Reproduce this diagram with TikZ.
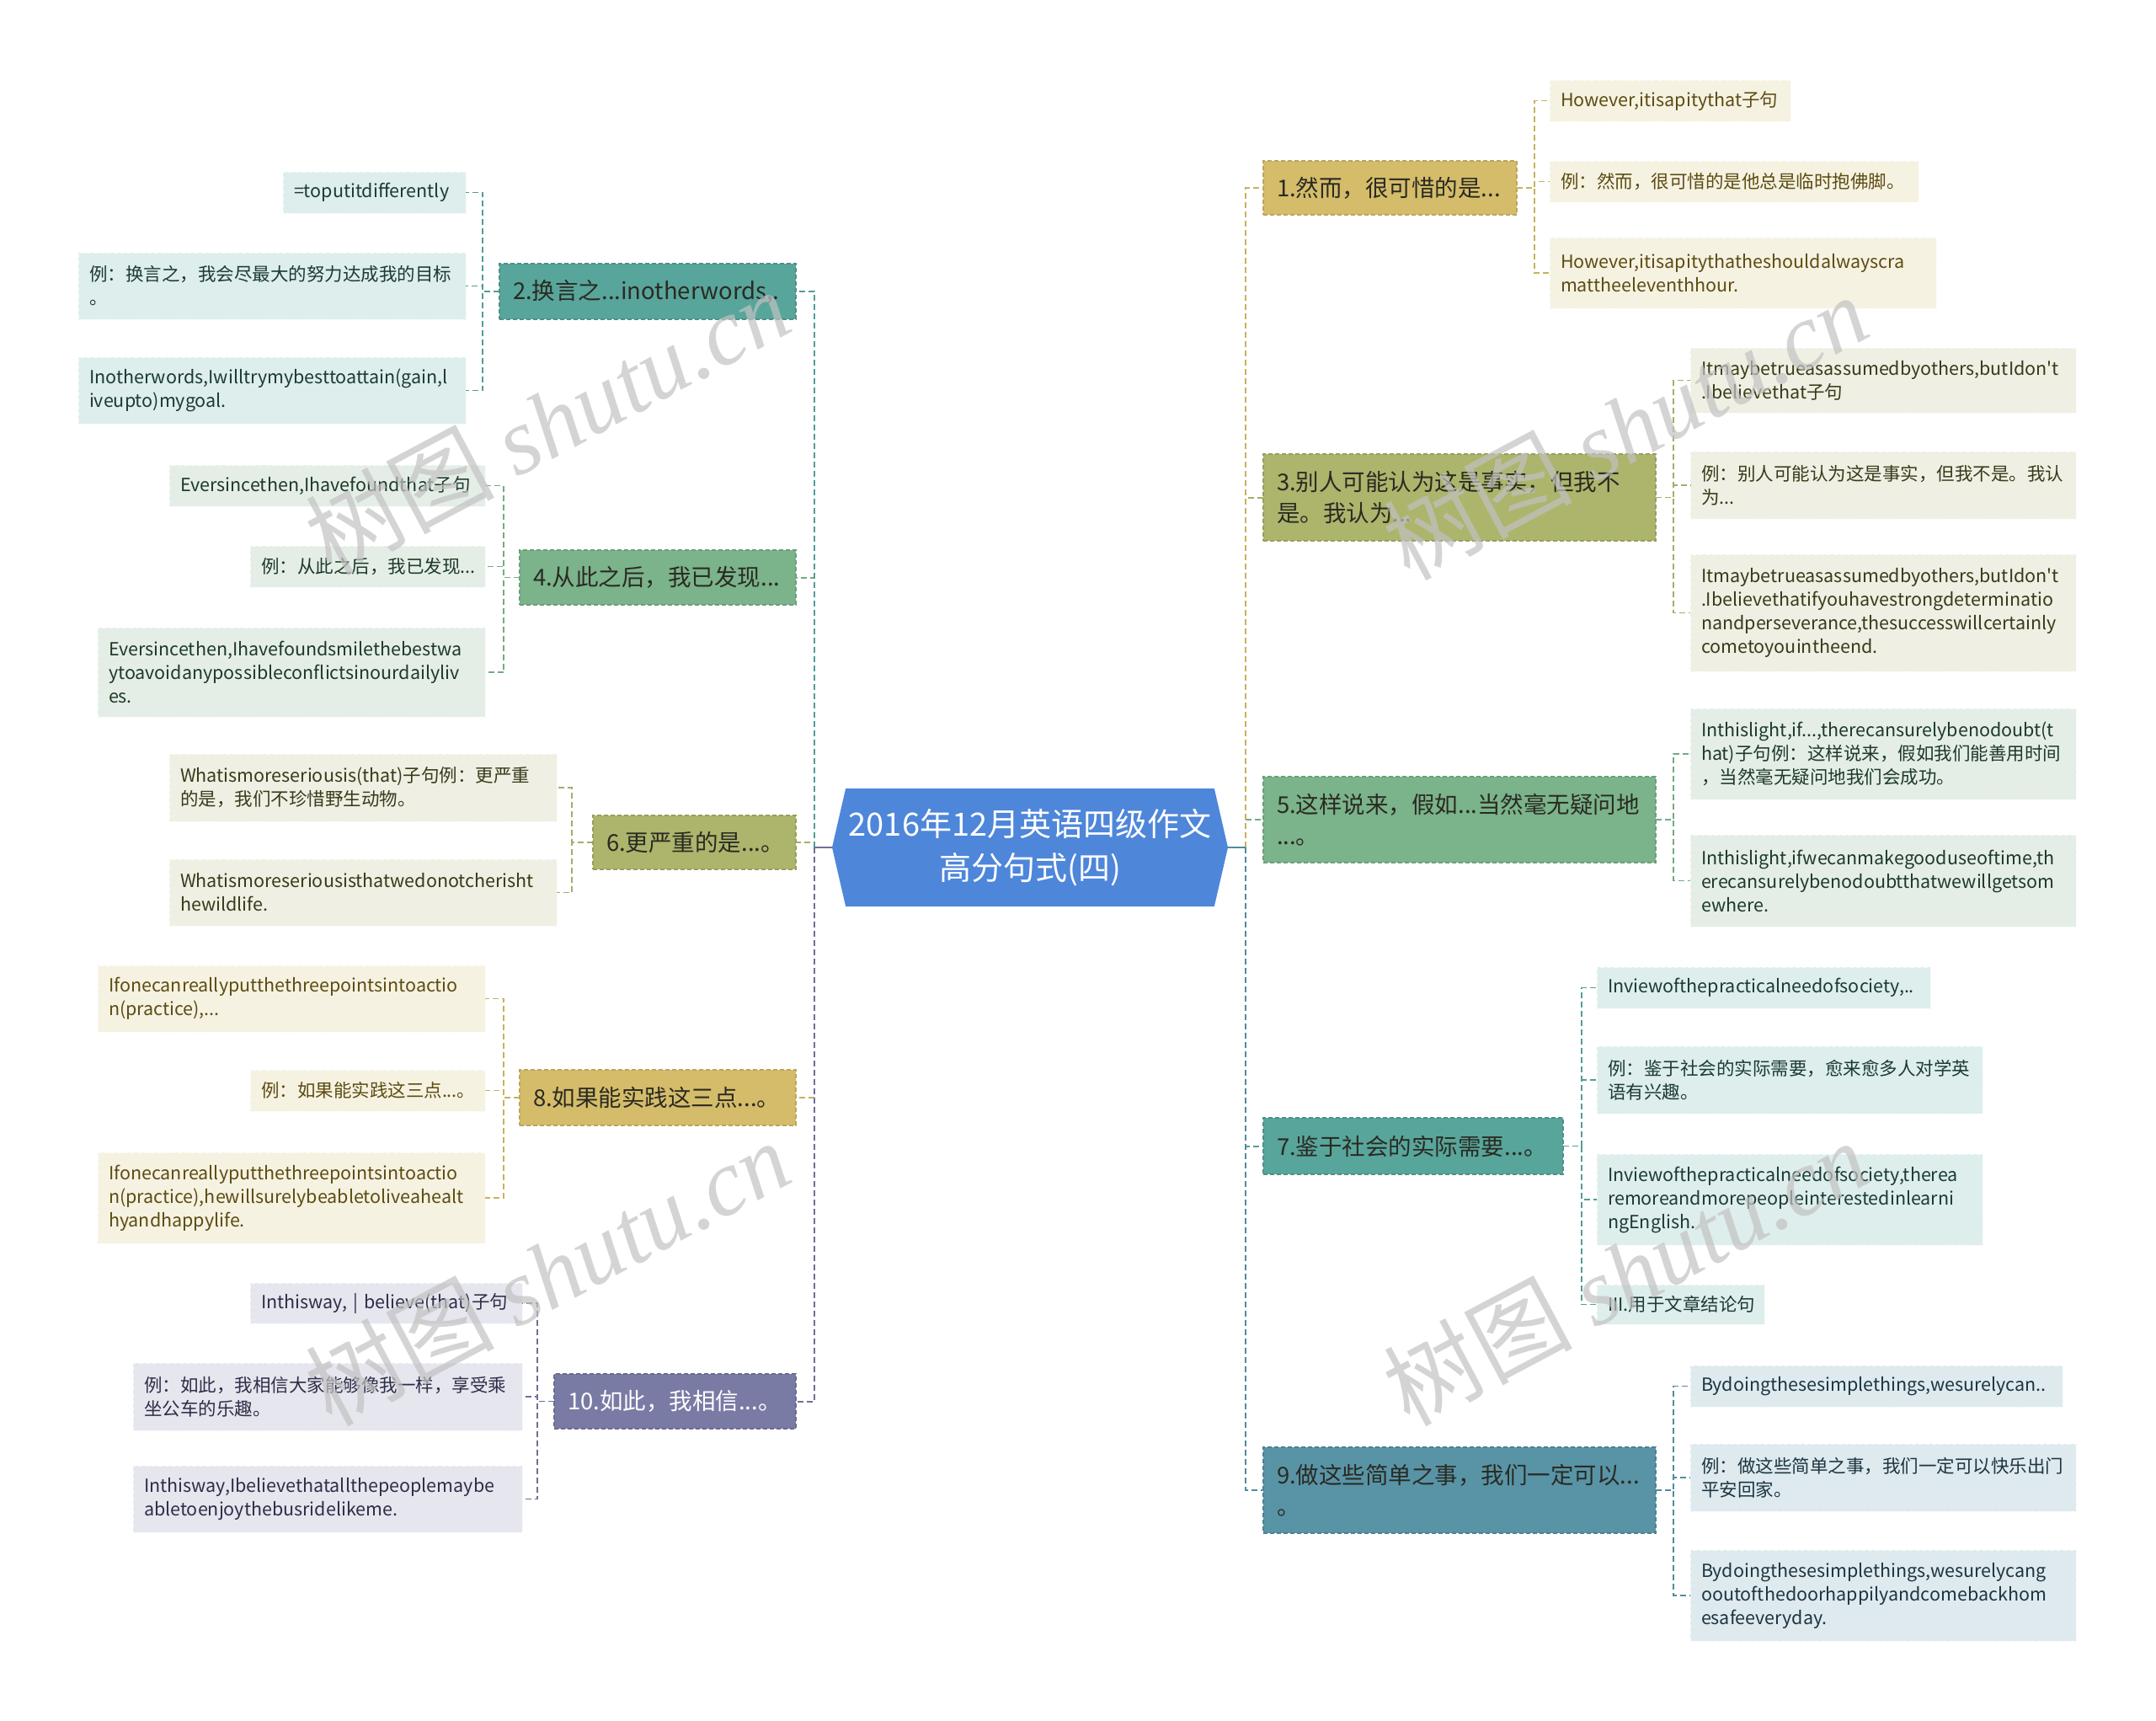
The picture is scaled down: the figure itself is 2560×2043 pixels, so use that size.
\documentclass[tikz,border=0pt]{standalone}
\usepackage{fontspec}
\setmainfont{Noto Sans CJK SC}[Ligatures=TeXOff]
\newfontfamily\wmlatin{Liberation Serif}
\usetikzlibrary{shapes.symbols}
\hyphenpenalty=10000
\exhyphenpenalty=10000
\definecolor{rootC}{HTML}{4E86DA}
\definecolor{goldB}{HTML}{D4BC6A}\definecolor{goldL}{HTML}{F6F2E2}\definecolor{goldT}{HTML}{5C4C12}\definecolor{goldK}{HTML}{C8B15E}
\definecolor{oliveB}{HTML}{ADB46C}\definecolor{oliveL}{HTML}{EFEFE3}\definecolor{oliveT}{HTML}{3A3A1A}\definecolor{oliveK}{HTML}{A6AD66}
\definecolor{greenB}{HTML}{7BB38B}\definecolor{greenL}{HTML}{E4EEE7}\definecolor{greenT}{HTML}{1E3A27}\definecolor{greenK}{HTML}{74AA84}
\definecolor{tealB}{HTML}{58A59B}\definecolor{tealL}{HTML}{DDEEEC}\definecolor{tealT}{HTML}{1C3A36}\definecolor{tealK}{HTML}{529E94}
\definecolor{steelB}{HTML}{5894A6}\definecolor{steelL}{HTML}{DEEAEE}\definecolor{steelT}{HTML}{1D3540}\definecolor{steelK}{HTML}{4F8C9F}
\definecolor{purpB}{HTML}{7A7BA4}\definecolor{purpL}{HTML}{E5E6EE}\definecolor{purpT}{HTML}{2E2E48}\definecolor{purpK}{HTML}{6E6F99}
\definecolor{brT}{HTML}{2A2A22}
\newcommand\leaffont{\fontsize{21.5}{28}\selectfont}
\newcommand\branchfont{\fontsize{27.5}{37.5}\selectfont}
\newcommand\rootfont{\fontsize{38}{52}\selectfont}
\newcommand\wmtext{{\fontsize{112}{112}\selectfont 树图 \wmlatin\itshape shutu.cn}}
\newcommand\mkleaf[7]{%
  \pgfmathsetmacro\mytw{#5-#3-26}\pgfmathsetmacro\myhh{#6-#4}%
  \node[#2, text width=\mytw pt, minimum height=\myhh pt] (#1) at (#3,#4) {#7};}
\newcommand\mkbranch[7]{%
  \pgfmathsetmacro\mytw{#5-#3-32}\pgfmathsetmacro\myhh{#6-#4}%
  \node[#2, text width=\mytw pt, minimum height=\myhh pt] (#1) at (#3,#4) {#7};}
\tikzset{
  leafbox/.style={rectangle, anchor=north west, inner xsep=13pt, inner ysep=0pt, outer sep=0pt,
    align=left, font=\leaffont, draw=white!70!#1, dash pattern=on 5pt off 3pt, line width=1pt},
  lfgold/.style={leafbox=goldL, fill=goldL, text=goldT},
  lfolive/.style={leafbox=oliveL, fill=oliveL, text=oliveT},
  lfgreen/.style={leafbox=greenL, fill=greenL, text=greenT},
  lfteal/.style={leafbox=tealL, fill=tealL, text=tealT},
  lfsteel/.style={leafbox=steelL, fill=steelL, text=steelT},
  lfpurple/.style={leafbox=purpL, fill=purpL, text=purpT},
  brbox/.style={rectangle, anchor=north west, inner xsep=16pt, inner ysep=0pt, outer sep=0pt,
    align=left, font=\branchfont, draw=black!12!#1, dash pattern=on 5pt off 3pt, line width=1.2pt, fill=#1},
  brgold/.style={brbox=goldB, text=brT},
  brolive/.style={brbox=oliveB, text=brT},
  brgreen/.style={brbox=greenB, text=brT},
  brteal/.style={brbox=tealB, text=brT},
  brsteel/.style={brbox=steelB, text=brT},
  brpurple/.style={brbox=purpB, text=white},
  conn/.style={draw=#1, line width=2pt, dash pattern=on 7pt off 4pt},
  stub/.style={draw=#1, line width=2.5pt},
  wmark/.style={text=black!24, opacity=0.7, rotate=28, inner sep=0pt},
}
\begin{document}
\begin{tikzpicture}[x=1pt,y=-1pt]
\useasboundingbox[fill=white] (0,0) rectangle (2560,2043);

% root
\node[shape=signal, signal to=west and east, signal pointer angle=154, fill=rootC,
  minimum width=470pt, minimum height=140pt, inner sep=0pt, text=white, font=\rootfont,
  align=center] (root) at (1223,1006) {2016年12月英语四级作文\\高分句式(四)};

% right branches
\mkbranch{b1}{brgold}{1500}{191}{1801}{255}{1.然而，很可惜的是...}
\mkbranch{b3}{brolive}{1500}{539}{1966}{642}{3.别人可能认为这是事实，但我不\\是。我认为...}
\mkbranch{b5}{brgreen}{1500}{922}{1966}{1024}{5.这样说来，假如...当然毫无疑问地\\...。}
\mkbranch{b7}{brteal}{1500}{1327}{1856}{1394}{7.鉴于社会的实际需要...。}
\mkbranch{b9}{brsteel}{1500}{1718}{1966}{1820}{9.做这些简单之事，我们一定可以...\\。}

% left branches
\mkbranch{b2}{brteal}{593}{313}{945}{379}{2.换言之...inotherwords,.}
\mkbranch{b4}{brgreen}{617}{653}{945}{718}{4.从此之后，我已发现...}
\mkbranch{b6}{brolive}{704}{968}{945}{1032}{6.更严重的是...。}
\mkbranch{b8}{brgold}{617}{1270}{945}{1336}{8.如果能实践这三点...。}
\mkbranch{b10}{brpurple}{658}{1631}{945}{1696}{10.如此，我相信...。}

% right leaves
\mkleaf{l1a}{lfgold}{1840}{95}{2126}{144}{However,itisapitythat子句}
\mkleaf{l1b}{lfgold}{1840}{191}{2278}{240}{例：然而，很可惜的是他总是临时抱佛脚。}
\mkleaf{l1c}{lfgold}{1840}{282}{2299}{366}{However,itisapitythatheshouldalwayscra\\mattheeleventhhour.}
\mkleaf{l3a}{lfolive}{2007}{413}{2465}{490}{Itmaybetrueasassumedbyothers,butIdon't\\.Ibelievethat子句}
\mkleaf{l3b}{lfolive}{2007}{536}{2465}{616}{例：别人可能认为这是事实，但我不是。我认\\为...}
\mkleaf{l3c}{lfolive}{2007}{658}{2465}{797}{Itmaybetrueasassumedbyothers,butIdon't\\.Ibelievethatifyouhavestrongdeterminatio\\nandperseverance,thesuccesswillcertainly\\cometoyouintheend.}
\mkleaf{l5a}{lfgreen}{2007}{841}{2465}{949}{Inthislight,if...,therecansurelybenodoubt(t\\hat)子句例：这样说来，假如我们能善用时间\\，当然毫无疑问地我们会成功。}
\mkleaf{l5b}{lfgreen}{2007}{991}{2465}{1100}{Inthislight,ifwecanmakegooduseoftime,th\\erecansurelybenodoubtthatwewillgetsom\\ewhere.}
\mkleaf{l7a}{lfteal}{1896}{1148}{2292}{1197}{Inviewofthepracticalneedofsociety,..}
\mkleaf{l7b}{lfteal}{1896}{1242}{2354}{1322}{例：鉴于社会的实际需要，愈来愈多人对学英\\语有兴趣。}
\mkleaf{l7c}{lfteal}{1896}{1370}{2354}{1478}{Inviewofthepracticalneedofsociety,therea\\remoreandmorepeopleinterestedinlearni\\ngEnglish.}
\mkleaf{l7d}{lfteal}{1896}{1525}{2095}{1572}{III.用于文章结论句}
\mkleaf{l9a}{lfsteel}{2007}{1621}{2449}{1670}{Bydoingthesesimplethings,wesurelycan..}
\mkleaf{l9b}{lfsteel}{2007}{1714}{2465}{1794}{例：做这些简单之事，我们一定可以快乐出门\\平安回家。}
\mkleaf{l9c}{lfsteel}{2007}{1840}{2465}{1948}{Bydoingthesesimplethings,wesurelycang\\ooutofthedoorhappilyandcomebackhom\\esafeeveryday.}

% left leaves
\mkleaf{l2a}{lfteal}{336}{204}{553}{253}{=toputitdifferently}
\mkleaf{l2b}{lfteal}{93}{300}{553}{379}{例：换言之，我会尽最大的努力达成我的目标\\。}
\mkleaf{l2c}{lfteal}{93}{424}{553}{503}{Inotherwords,Iwilltrymybesttoattain(gain,l\\iveupto)mygoal.}
\mkleaf{l4a}{lfgreen}{201}{552}{576}{601}{Eversincethen,Ihavefoundthat子句}
\mkleaf{l4b}{lfgreen}{297}{648}{576}{697}{例：从此之后，我已发现...}
\mkleaf{l4c}{lfgreen}{116}{745}{576}{851}{Eversincethen,Ihavefoundsmilethebestwa\\ytoavoidanypossibleconflictsinourdailyliv\\es.}
\mkleaf{l6a}{lfolive}{201}{895}{661}{975}{Whatismoreseriousis(that)子句例：更严重\\的是，我们不珍惜野生动物。}
\mkleaf{l6b}{lfolive}{201}{1020}{661}{1099}{Whatismoreseriousisthatwedonotcherisht\\hewildlife.}
\mkleaf{l8a}{lfgold}{116}{1146}{576}{1225}{Ifonecanreallyputthethreepointsintoactio\\n(practice),...}
\mkleaf{l8b}{lfgold}{297}{1270}{576}{1319}{例：如果能实践这三点...。}
\mkleaf{l8c}{lfgold}{116}{1368}{576}{1476}{Ifonecanreallyputthethreepointsintoactio\\n(practice),hewillsurelybeabletoliveahealt\\hyandhappylife.}
\mkleaf{l10a}{lfpurple}{297}{1523}{620}{1571}{Inthisway, | believe(that)子句}
\mkleaf{l10b}{lfpurple}{158}{1618}{620}{1698}{例：如此，我相信大家能够像我一样，享受乘\\坐公车的乐趣。}
\mkleaf{l10c}{lfpurple}{158}{1740}{620}{1819}{Inthisway,Ibelievethatallthepeoplemaybe\\abletoenjoythebusridelikeme.}

% main connectors
\coordinate (lsp) at (967,1006);
\coordinate (rsp) at (1479,1006);
\draw[conn=oliveK] (lsp) |- (b6.east);
\draw[conn=greenK] (lsp) |- (b4.east);
\draw[conn=tealK] (lsp) |- (b2.east);
\draw[conn=goldK] (lsp) |- (b8.east);
\draw[conn=purpK] (lsp) |- (b10.east);
\draw[conn=greenK] (rsp) |- (b5.west);
\draw[conn=oliveK] (rsp) |- (b3.west);
\draw[conn=goldK] (rsp) |- (b1.west);
\draw[conn=tealK] (rsp) |- (b7.west);
\draw[conn=steelK] (rsp) |- (b9.west);
\draw[stub=purpK] (root.west) -- (lsp);
\draw[stub=steelK] (root.east) -- (rsp);

% child connectors right
\coordinate (c1) at (1822,0);
\coordinate (c3) at (1987,0);
\coordinate (c5) at (1987,0);
\coordinate (c7) at (1878,0);
\coordinate (c9) at (1987,0);
\foreach \l in {l1a,l1b,l1c}{\draw[conn=goldK, line width=1.5pt] (b1.east) -- (b1.east -| c1) |- (\l.west);}
\foreach \l in {l3a,l3b,l3c}{\draw[conn=oliveK, line width=1.5pt] (b3.east) -- (b3.east -| c3) |- (\l.west);}
\foreach \l in {l5a,l5b}{\draw[conn=greenK, line width=1.5pt] (b5.east) -- (b5.east -| c5) |- (\l.west);}
\foreach \l in {l7a,l7b,l7c,l7d}{\draw[conn=tealK, line width=1.5pt] (b7.east) -- (b7.east -| c7) |- (\l.west);}
\foreach \l in {l9a,l9b,l9c}{\draw[conn=steelK, line width=1.5pt] (b9.east) -- (b9.east -| c9) |- (\l.west);}

% child connectors left
\coordinate (c2) at (573,0);
\coordinate (c4) at (598,0);
\coordinate (c6) at (679,0);
\coordinate (c8) at (598,0);
\coordinate (c10) at (638,0);
\foreach \l in {l2a,l2b,l2c}{\draw[conn=tealK, line width=1.5pt] (b2.west) -- (b2.west -| c2) |- (\l.east);}
\foreach \l in {l4a,l4b,l4c}{\draw[conn=greenK, line width=1.5pt] (b4.west) -- (b4.west -| c4) |- (\l.east);}
\foreach \l in {l6a,l6b}{\draw[conn=oliveK, line width=1.5pt] (b6.west) -- (b6.west -| c6) |- (\l.east);}
\foreach \l in {l8a,l8b,l8c}{\draw[conn=goldK, line width=1.5pt] (b8.west) -- (b8.west -| c8) |- (\l.east);}
\foreach \l in {l10a,l10b,l10c}{\draw[conn=purpK, line width=1.5pt] (b10.west) -- (b10.west -| c10) |- (\l.east);}

% watermarks
\node[wmark] (wm1) at (650,500) {\wmtext};
\node[wmark] (wm2) at (1930,506) {\wmtext};
\node[wmark] (wm3) at (650,1510) {\wmtext};
\node[wmark] (wm4) at (1930,1510) {\wmtext};
\end{tikzpicture}
\end{document}
